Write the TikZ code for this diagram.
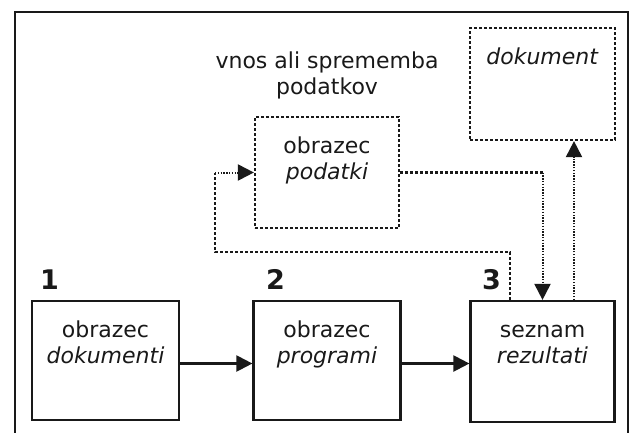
\documentclass[tikz,border=0pt]{standalone}
\usepackage{fontspec}
\setmainfont{DejaVu Sans}
\usetikzlibrary{arrows.meta}
\tikzset{
  frameline/.style={line width=2.4pt, draw=black!90},
  solidbox/.style={draw=black!90, line width=2.2pt, minimum width=147pt, minimum height=119pt, inner sep=0pt},
  dashbox/.style={draw=black!90, line width=2.2pt, dash pattern=on 3pt off 2pt, minimum width=145pt, minimum height=112pt, inner sep=0pt},
  boxtext/.style={align=center, anchor=north, inner sep=0pt, font=\fontsize{22}{26}\selectfont, text=black!90},
  numtext/.style={anchor=base west, inner sep=0pt, font=\fontsize{27}{30}\selectfont\bfseries, text=black!90},
  tip/.style={-{Triangle[length=16pt,width=16pt]}},
  solidline/.style={line width=2.2pt, draw=black!90},
  dashline/.style={line width=2.2pt, draw=black!90, dash pattern=on 3pt off 2pt},
  dotline/.style={line width=2pt, draw=black!90, dash pattern=on 1.4pt off 1.4pt},
}
\begin{document}
\begin{tikzpicture}[x=1pt,y=-1pt]
\useasboundingbox (0,0) rectangle (631,432);
% outer frame (open at the bottom)
\draw[frameline] (15,440) -- (15,12) -- (628,12) -- (628,440);
% boxes
\node[solidbox] (b1) at (105.5,360.5) {};
\node[solidbox] (b2) at (327,360.5) {};
\node[solidbox, minimum width=144pt, minimum height=121pt] (b3) at (542.5,361.5) {};
\node[dashbox, minimum width=144pt, minimum height=111pt] (pd) at (327,172.5) {};
\node[dashbox] (dk) at (542.5,84) {};
% box texts (first baseline 37pt below the top edge)
\node[boxtext] (t1) at ([yshift=-18.8pt]b1.north) {\strut obrazec\\\textit{dokumenti}};
\node[boxtext] (t2) at ([yshift=-18.8pt]b2.north) {\strut obrazec\\\textit{programi}};
\node[boxtext] (t3) at ([yshift=-18.8pt]b3.north) {\strut seznam\\\textit{rezultati}};
\node[boxtext] (tp) at ([yshift=-18.8pt]pd.north) {\strut obrazec\\\textit{podatki}};
\node[boxtext] (td) at ([yshift=-18.8pt]dk.north) {\strut\textit{dokument}};
\node[boxtext] (tv) at (327,49.8) {\strut vnos ali sprememba\\podatkov};
% numbers
\node[numtext] (n1) at (40,289) {1};
\node[numtext] (n2) at (266,289) {2};
\node[numtext] (n3) at (482,289) {3};
% connectors
\coordinate (a1) at ([yshift=-3pt]b1.east);
\coordinate (a2) at ([yshift=-3pt]b2.east);
\draw[solidline, tip] (a1) -- (a1 -| b2.west);
\draw[solidline, tip] (a2) -- (a2 -| b3.west);
\coordinate (lp0) at ([xshift=-32.5pt]b3.north);
\coordinate (lp1) at (215,252);
\coordinate (lp2) at (pd.west -| lp1);
\draw[dashline] (lp0) |- (lp1) -- (lp2);
\draw[dotline, tip] (lp2) -- (pd.west);
\coordinate (rp) at (pd.east -| b3.north);
\draw[dashline] (pd.east) -- (rp);
\draw[dotline, tip] (rp) -- (b3.north);
\coordinate (up0) at ([xshift=31.5pt]b3.north);
\coordinate (up1) at (up0 |- dk.south);
\draw[dotline, tip] (up0) -- (up1);
\end{tikzpicture}
\end{document}
